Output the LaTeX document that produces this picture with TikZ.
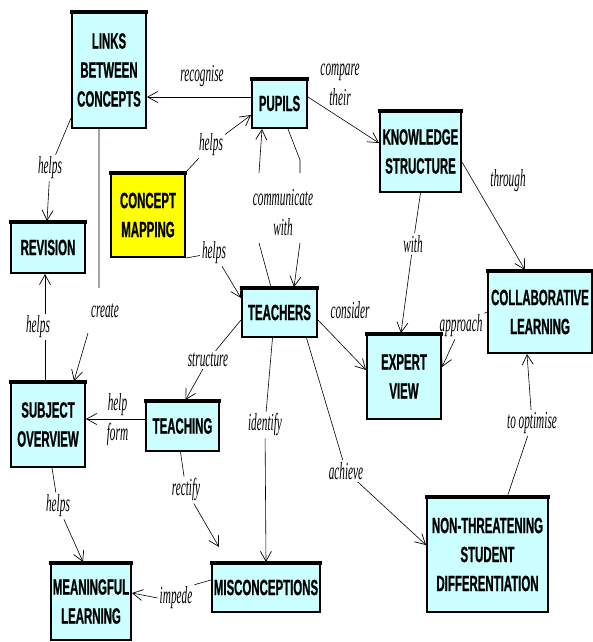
\documentclass[tikz,border=0pt]{standalone}
\usepackage{fontspec}
\usetikzlibrary{arrows.meta}
\newfontfamily\boxfam{Liberation Sans}[FakeStretch=0.52,FakeBold=0.8]
\newfontfamily\labfam{Liberation Serif}[FakeStretch=0.46]
\definecolor{boxcyan}{HTML}{CCFFFF}
\definecolor{boxyellow}{HTML}{FFFF00}
\begin{document}
\begin{tikzpicture}[x=1pt,y=-1pt,
  box/.style={draw, line width=2pt, fill=boxcyan, align=center, inner sep=0pt,
    font=\boxfam\bfseries\fontsize{22}{29}\selectfont},
  lab/.style={align=center, inner sep=2pt,
    font=\labfam\itshape\fontsize{24.5}{30}\selectfont},
  arr/.style={-{Straight Barb[length=10pt,width=11pt,line width=0.7pt]}, line width=0.6pt},
  con/.style={line width=0.6pt}]
\useasboundingbox[fill=white] (0,0) rectangle (593,642);

% concept boxes
\node[box, minimum width=74pt, minimum height=116pt] (links) at (109,70) {LINKS\\BETWEEN\\CONCEPTS};
\node[box, minimum width=55pt, minimum height=49pt] (pupils) at (279.5,103.5) {PUPILS};
\node[box, minimum width=81pt, minimum height=81pt] (ks) at (420.5,151.5) {KNOWLEDGE\\STRUCTURE};
\node[box, fill=boxyellow, minimum width=74pt, minimum height=84pt] (cmap) at (148,215) {CONCEPT\\MAPPING};
\node[box, minimum width=74pt, minimum height=51pt] (revision) at (48,247.5) {REVISION};
\node[box, minimum width=75pt, minimum height=49pt] (teachers) at (279.5,312.5) {TEACHERS};
\node[box, minimum width=74pt, minimum height=85pt] (expert) at (404,376.5) {EXPERT\\VIEW};
\node[box, minimum width=104pt, minimum height=82pt] (collab) at (540,312) {COLLABORATIVE\\LEARNING};
\node[box, minimum width=74pt, minimum height=85pt] (subject) at (48,424.5) {SUBJECT\\OVERVIEW};
\node[box, minimum width=73pt, minimum height=50pt] (teaching) at (182.5,426) {TEACHING};
\node[box, minimum width=80pt, minimum height=77pt] (meaningful) at (91,601.5) {MEANINGFUL\\LEARNING};
\node[box, minimum width=108pt, minimum height=49pt] (misc) at (266,587.5) {MISCONCEPTIONS};
\node[box, minimum width=121pt, minimum height=115pt] (nt) at (487.5,554.5) {NON-THREATENING\\STUDENT\\DIFFERENTIATION};

% thicker top edges
\foreach \n in {links,pupils,ks,cmap,revision,teachers,expert,collab,subject,teaching,meaningful,misc,nt}
  \draw[line width=4pt, shorten <=-1pt, shorten >=-1pt] ([yshift=-1pt]\n.north west) -- ([yshift=-1pt]\n.north east);

% link labels
\node[lab] (recognise) at (202,76) {recognise};
\node[lab] (compare) at (340,85) {compare\\their};
\node[lab] (helpsA) at (211,145) {helps};
\node[lab] (helpsB) at (214,253) {helps};
\node[lab] (comm) at (283,213) {communicate\\with};
\node[lab] (helpsC) at (50,168) {helps};
\node[lab] (helpsD) at (38,327) {helps};
\node[lab] (create) at (105,311) {create};
\node[lab] (structure) at (208,360) {structure};
\node[lab] (helpform) at (117.5,420) {help\\form};
\node[lab] (helpsE) at (58,506) {helps};
\node[lab] (rectify) at (186,490) {rectify};
\node[lab] (identify) at (265,425) {identify};
\node[lab] (achieve) at (346,471) {achieve};
\node[lab] (consider) at (350,310) {consider};
\node[lab] (with) at (413,244) {with};
\node[lab] (through) at (508,181) {through};
\node[lab] (approach) at (461,326) {approach};
\node[lab] (optimise) at (532,423) {to optimise};
\node[lab] (impede) at (176,598) {impede};

% connectors
\draw[arr] ([yshift=6.5pt]pupils.west) -- ([yshift=6.5pt]pupils.west -| links.east);
\draw[arr] ([yshift=6.5pt]pupils.east) -- ([yshift=8.5pt]ks.west);
\draw[arr] (cmap.north east) -- (helpsA) -- ([yshift=-11.5pt]pupils.west);
\draw[arr] (cmap.south east) -- (helpsB) -- ([yshift=14.5pt]teachers.west);
\draw[arr] ([xshift=30pt]teachers.north west) -- ([xshift=-24pt,yshift=-30pt]comm.center)
           ([xshift=-24pt,yshift=40pt]comm.center) -- ([xshift=11pt]pupils.south west);
\draw[arr] ([xshift=-20pt]pupils.south east) -- ([xshift=17pt,yshift=53pt]comm.center) -- ([xshift=17pt,yshift=40pt]comm.center)
           ([xshift=17pt,yshift=-30pt]comm.center) -- ([xshift=-24pt]teachers.north east);
\draw[arr] ([yshift=11pt]links.south west) -- (helpsC) -- ([xshift=-1pt]revision.north);
\draw[arr] ([xshift=-3pt]subject.north) -- ([xshift=7pt]helpsD.south)
           ([xshift=7pt]helpsD.north) -- ([xshift=-3pt]revision.south);
\draw[arr] ([xshift=-10pt]links.south) -- ([xshift=-6pt,yshift=23pt]create.center)
           ([xshift=-17pt,yshift=-22pt]create.center) -- ([xshift=-12pt]subject.north east);
\draw[arr] ([yshift=-7.5pt]teachers.west) -- (structure) -- ([xshift=3pt]teaching.north);
\draw[arr] ([yshift=7pt]teaching.west) -- ([yshift=7pt]teaching.west -| subject.east);
\draw[arr] ([xshift=4pt]subject.south) -- (helpsE) -- ([xshift=-8pt]meaningful.north);
\draw[arr] ([xshift=-2pt]teaching.south) -- (rectify) -- ([xshift=8pt,yshift=15pt]misc.north west);
\draw[arr] ([xshift=-7pt]teachers.south) -- (identify) -- (misc.north);
\draw[arr] ([xshift=27pt]teachers.south) -- (achieve) -- ([yshift=9.5pt]nt.west);
\draw[arr] ([yshift=-7.5pt]teachers.east) -- ([yshift=6.5pt]expert.west);
\draw[arr] (ks.south) -- (with) -- ([xshift=-3pt]expert.north);
\draw[arr] ([yshift=-10.5pt]ks.east) -- ([xshift=-15pt]collab.north);
\draw[arr] (collab.west) -- (approach) -- ([yshift=9.5pt]expert.east);
\draw[arr] ([xshift=20pt]nt.north) -- (optimise) -- ([xshift=-13pt]collab.south);
\draw[arr] ([yshift=7.5pt]misc.west) -- (impede.north east) (impede.west) -- ([yshift=8.5pt]meaningful.east);
\end{tikzpicture}
\end{document}
